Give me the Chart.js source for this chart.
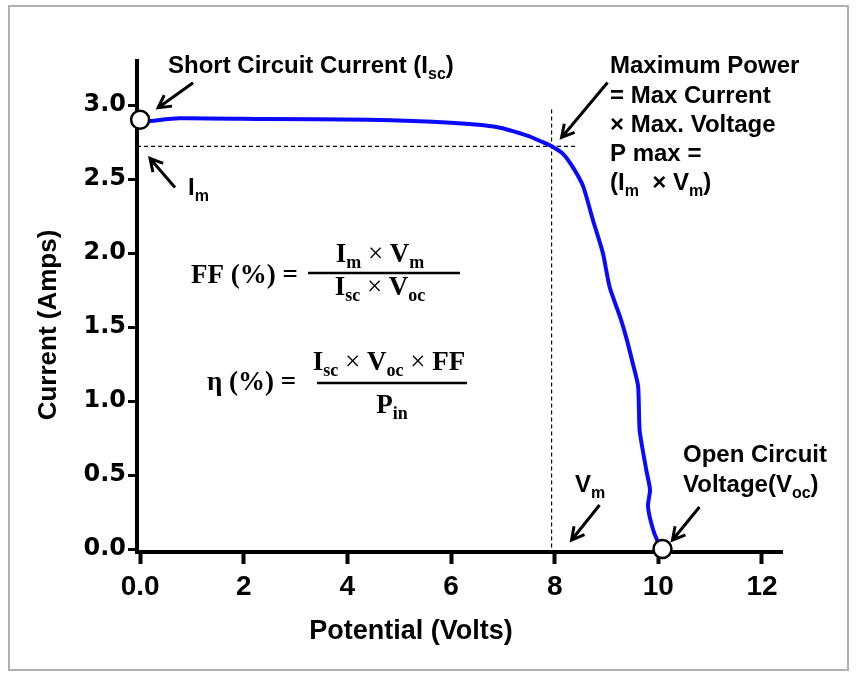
<!DOCTYPE html>
<html>
<head>
<meta charset="utf-8">
<title>Solar cell I-V curve</title>
<script src="https://cdn.jsdelivr.net/npm/chart.js@4.4.1/dist/chart.umd.min.js"></script>
<style>
  html, body { margin: 0; padding: 0; background: #fff; }
  #ivChart { display: block; }
</style>
</head>
<body>
<canvas id="ivChart" width="856" height="677"></canvas>
<script>
// I-V curve of the cell (volts, amps)
const voltage = [0.0, 0.13, 0.75, 2.4, 4.4, 6.0, 6.9, 7.5, 7.73, 7.95, 8.16, 8.35, 8.55, 8.74, 8.93, 9.06, 9.26, 9.38, 9.51, 9.61, 9.64, 9.77, 9.84, 9.80, 9.90, 10.03, 10.08];
const current = [2.89, 2.89, 2.91, 2.905, 2.90, 2.88, 2.85, 2.79, 2.755, 2.72, 2.67, 2.58, 2.45, 2.22, 2.00, 1.77, 1.57, 1.43, 1.25, 1.10, 0.80, 0.53, 0.40, 0.29, 0.13, 0.02, 0.0];

// axis ticks
const xTicks = [0, 2, 4, 6, 8, 10, 12];
const yTicks = [0, 0.5, 1.0, 1.5, 2.0, 2.5, 3.0];

// key points on the curve
const iscPoint = { x: 0, y: 2.9 };     // short circuit current
const vocPoint = { x: 10.08, y: 0 };   // open circuit voltage
const vm = 7.94;                       // voltage at max power
const im = 2.72;                       // current at max power
const imLineEnd = 8.45;                // dashed Im guide runs to here
const vmLineTop = 2.97;                // dashed Vm guide starts here

const X_MIN = -0.06, X_MAX = 12.4, Y_MIN = -0.02, Y_MAX = 3.3;

const SANS = "'Liberation Sans', Arial, sans-serif";
const SERIF = "'Liberation Serif', 'Times New Roman', serif";

// text with subscripts; parts = [text, flags] where 's' = subscript, 'r' = regular weight
function rich(ctx, x, y, parts, size, family, align) {
  const sub = Math.round(size * 0.66);
  const fontFor = f => ((f || '').includes('r') ? '' : 'bold ') + ((f || '').includes('s') ? sub : size) + 'px ' + family;
  let w = 0;
  parts.forEach(p => { ctx.font = fontFor(p[1]); w += ctx.measureText(p[0]).width; });
  let cx = align === 'center' ? x - w / 2 : x;
  ctx.textAlign = 'left';
  ctx.textBaseline = 'alphabetic';
  parts.forEach(p => {
    ctx.font = fontFor(p[1]);
    const dy = (p[1] || '').includes('s') ? size * 0.24 : 0;
    ctx.fillText(p[0], cx, y + dy);
    cx += ctx.measureText(p[0]).width;
  });
}

function arrow(ctx, x1, y1, x2, y2) {
  const a = Math.atan2(y2 - y1, x2 - x1);
  const h = 14, spread = 0.5;
  ctx.beginPath();
  ctx.moveTo(x1, y1);
  ctx.lineTo(x2, y2);
  ctx.moveTo(x2 - h * Math.cos(a - spread), y2 - h * Math.sin(a - spread));
  ctx.lineTo(x2, y2);
  ctx.lineTo(x2 - h * Math.cos(a + spread), y2 - h * Math.sin(a + spread));
  ctx.stroke();
}

const frame = {
  id: 'frame',
  beforeDraw(chart) {
    const ctx = chart.ctx;
    ctx.save();
    ctx.fillStyle = '#fff';
    ctx.fillRect(0, 0, chart.width, chart.height);
    ctx.strokeStyle = '#b0b0b0';
    ctx.lineWidth = 2;
    ctx.strokeRect(9, 6, 839, 664);
    ctx.restore();
  }
};

const notes = {
  id: 'notes',
  afterDraw(chart) {
    const { ctx, scales: { x, y }, chartArea } = chart;
    const px = v => x.getPixelForValue(v);
    const py = v => y.getPixelForValue(v);
    ctx.save();
    ctx.fillStyle = '#000';
    ctx.strokeStyle = '#000';

    // axis titles
    ctx.textAlign = 'center';
    ctx.textBaseline = 'middle';
    ctx.font = 'bold 27px ' + SANS;
    ctx.fillText('Potential (Volts)', 411, 632);
    ctx.save();
    ctx.translate(49, 325);
    ctx.rotate(-Math.PI / 2);
    ctx.font = 'bold 26px ' + SANS;
    ctx.fillText('Current (Amps)', 0, 0);
    ctx.restore();

    // labels
    rich(ctx, 168, 73, [['Short Circuit Current (I'], ['sc', 's'], [')']], 24, SANS);
    rich(ctx, 188, 195, [['I'], ['m', 's']], 24, SANS);
    rich(ctx, 610, 73, [['Maximum Power']], 24, SANS);
    rich(ctx, 610, 103, [['= Max Current']], 24, SANS);
    rich(ctx, 610, 132, [['× Max. Voltage']], 24, SANS);
    rich(ctx, 610, 161, [['P max =']], 24, SANS);
    rich(ctx, 610, 190, [['(I'], ['m', 's'], ['  × V'], ['m', 's'], [')']], 24, SANS);
    rich(ctx, 575, 492, [['V'], ['m', 's']], 24, SANS);
    rich(ctx, 683, 462, [['Open Circuit']], 24, SANS);
    rich(ctx, 683, 492, [['Voltage(V'], ['oc', 's'], [')']], 24, SANS);

    // arrows
    ctx.lineWidth = 3;
    const ix = px(iscPoint.x), iy = py(iscPoint.y);
    arrow(ctx, ix + 53, iy - 37, ix + 18, iy - 12);
    arrow(ctx, chartArea.left + 38, py(im) + 41, chartArea.left + 13, py(im) + 12);
    arrow(ctx, px(vm) + 56, py(im) - 64, px(vm) + 10, py(im) - 9);
    arrow(ctx, px(vm) + 48, py(0) - 44, px(vm) + 20, py(0) - 9);
    const ox = px(vocPoint.x), oy = py(vocPoint.y);
    arrow(ctx, ox + 37, oy - 42, ox + 10, oy - 9);

    // fill factor and efficiency
    rich(ctx, 191, 283, [['FF (%) =']], 27, SERIF);
    ctx.lineWidth = 2.5;
    ctx.beginPath();
    ctx.moveTo(308, 273); ctx.lineTo(460, 273);
    ctx.moveTo(317, 383); ctx.lineTo(467, 383);
    ctx.stroke();
    rich(ctx, 380, 262, [['I'], ['m', 's'], [' × ', 'r'], ['V'], ['m', 's']], 27, SERIF, 'center');
    rich(ctx, 380, 295, [['I'], ['sc', 's'], [' × ', 'r'], ['V'], ['oc', 's']], 27, SERIF, 'center');
    rich(ctx, 207, 390, [['η (%) =']], 27, SERIF);
    rich(ctx, 389, 370, [['I'], ['sc', 's'], [' × ', 'r'], ['V'], ['oc', 's'], [' × ', 'r'], ['FF']], 27, SERIF, 'center');
    rich(ctx, 392, 413, [['P'], ['in', 's']], 27, SERIF, 'center');
    ctx.restore();
  }
};

const curve = voltage.map((v, i) => ({ x: v, y: current[i] }));

new Chart(document.getElementById('ivChart').getContext('2d'), {
  type: 'scatter',
  data: {
    datasets: [
      {
        data: [iscPoint, vocPoint],
        pointRadius: 9,
        pointBackgroundColor: '#fff',
        pointBorderColor: '#000',
        pointBorderWidth: 2.5,
        clip: false,
        order: 0
      },
      {
        data: curve,
        showLine: true,
        borderColor: '#0a0aff',
        borderWidth: 4,
        tension: 0.2,
        pointRadius: 0,
        order: 1
      },
      {
        data: [{ x: X_MIN, y: im }, { x: imLineEnd, y: im }],
        showLine: true,
        borderColor: '#000',
        borderWidth: 1.2,
        borderDash: [4, 3],
        pointRadius: 0,
        order: 2
      },
      {
        data: [{ x: vm, y: vmLineTop }, { x: vm, y: 0 }],
        showLine: true,
        borderColor: '#000',
        borderWidth: 1.2,
        borderDash: [4, 3],
        pointRadius: 0,
        order: 2
      }
    ]
  },
  options: {
    responsive: false,
    devicePixelRatio: 1,
    animation: false,
    layout: {
      padding: { top: 60.6, right: 73.3, bottom: 0, left: 0 }
    },
    plugins: {
      legend: { display: false },
      tooltip: { enabled: false }
    },
    scales: {
      x: {
        type: 'linear',
        min: X_MIN,
        max: X_MAX,
        afterBuildTicks: s => { s.ticks = xTicks.map(v => ({ value: v })); },
        afterFit: s => { s.height = 125; },
        border: { display: true, color: '#000', width: 4 },
        grid: { drawOnChartArea: false, drawTicks: true, tickLength: 12, tickWidth: 4, tickColor: '#000' },
        ticks: {
          color: '#000',
          padding: 6,
          maxRotation: 0,
          font: { family: SANS, weight: 'bold', size: 28 },
          callback: v => (v === 0 ? '0.0' : String(v))
        }
      },
      y: {
        type: 'linear',
        min: Y_MIN,
        max: Y_MAX,
        afterBuildTicks: s => { s.ticks = yTicks.map(v => ({ value: v })); },
        afterFit: s => { s.width = 137; },
        border: { display: true, color: '#000', width: 4 },
        grid: { drawOnChartArea: false, drawTicks: true, tickLength: 9, tickWidth: 3, tickColor: '#000' },
        ticks: {
          color: '#000',
          padding: 2,
          font: { family: "'DejaVu Sans', sans-serif", weight: 'bold', size: 24 },
          callback: v => v.toFixed(1)
        }
      }
    }
  },
  plugins: [frame, notes]
});
</script>
</body>
</html>
